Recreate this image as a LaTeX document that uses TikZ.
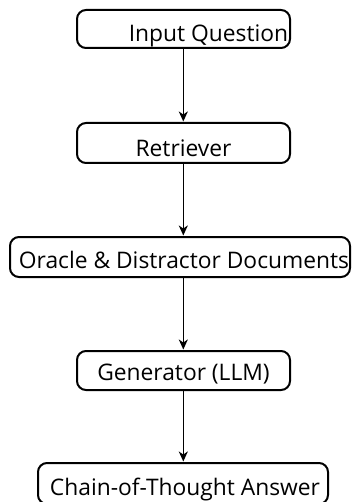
\documentclass[tikz,border=0pt]{standalone}
\usepackage{fontspec}
\setmainfont{Open Sans}
\usetikzlibrary{arrows.meta}
\tikzset{
  stagebox/.style={draw=black, line width=2pt, rounded corners=9pt, inner sep=0pt},
  stagetext/.style={anchor=base, inner sep=0pt, font=\fontsize{22.8}{26}\selectfont},
  flow/.style={draw=black, line width=1.6pt, -{Stealth[length=10pt, width=9pt, inset=3pt]}, shorten >=0.5pt}
}
\begin{document}
\begin{tikzpicture}[x=1pt, y=-1pt]
  \useasboundingbox (0,0) rectangle (352,502);
  \clip (0,0) rectangle (352,502);
  % stage boxes
  \node[stagebox, minimum width=213pt, minimum height=38pt] (q) at (183.5,29) {};
  \node[stagebox, minimum width=213pt, minimum height=40pt] (r) at (183.5,143) {};
  \node[stagebox, minimum width=340pt, minimum height=40pt] (d) at (180,257) {};
  \node[stagebox, minimum width=213pt, minimum height=39pt] (g) at (183.5,370.5) {};
  \node[stagebox, minimum width=290pt, minimum height=41pt] (a) at (183,483.5) {};
  % stage labels
  \node[stagetext] (qt) at (208.5,42) {Input Question};
  \node[stagetext] (rt) at (183.5,157) {Retriever};
  \node[stagetext] (dt) at (184,268) {Oracle \& Distractor Documents};
  \node[stagetext] (gt) at (183.5,380) {Generator (LLM)};
  \node[stagetext] (at) at (185,495) {Chain-of-Thought Answer};
  % connectors
  \draw[flow] (q.south -| 183.3,0) -- (r.north -| 183.3,0);
  \draw[flow] (r.south -| 183.3,0) -- (d.north -| 183.3,0);
  \draw[flow] (d.south -| 183.3,0) -- (g.north -| 183.3,0);
  \draw[flow] (g.south -| 183.3,0) -- (a.north -| 183.3,0);
\end{tikzpicture}
\end{document}
